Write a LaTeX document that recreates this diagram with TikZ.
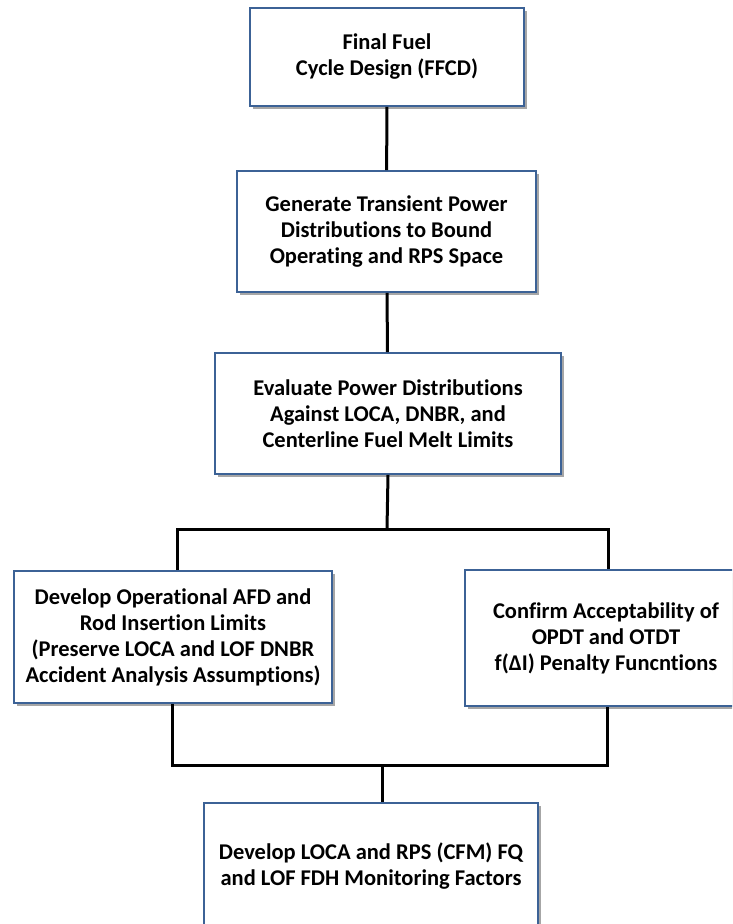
\documentclass[tikz,border=0pt]{standalone}
\usepackage{fontspec}
\setmainfont{Carlito}[Ligatures=NoCommon]
\usetikzlibrary{shadows}
\definecolor{boxblue}{RGB}{60,98,150}

\begin{document}
\begin{tikzpicture}[x=1pt, y=-1pt, line width=3pt,
  box/.style={draw=boxblue, line width=1.6pt, fill=white, align=center, inner sep=0pt,
    font=\fontsize{22.5}{26}\selectfont\bfseries,
    drop shadow={shadow xshift=2.5pt, shadow yshift=-3pt, opacity=0.35, fill=black}}]
  \useasboundingbox (0,0) rectangle (732,924);
  \clip (0,0) rectangle (732,924);
  \node[box, minimum width=274pt, minimum height=98pt] (ffcd) at (387,57) {Final Fuel\\Cycle Design (FFCD)};
  \node[box, minimum width=299pt, minimum height=121pt] (gen) at (386.5,231.5) {Generate Transient Power\\Distributions to Bound\\Operating and RPS Space};
  \node[box, minimum width=346pt, minimum height=121pt] (eval) at (388,413.5) {Evaluate Power Distributions\\Against LOCA, DNBR, and\\Centerline Fuel Melt Limits};
  \node[box, minimum width=318pt, minimum height=132pt] (dev) at (173,637) {Develop Operational AFD and\\Rod Insertion Limits\\(Preserve LOCA and LOF DNBR\\Accident Analysis Assumptions)};
  \node[box, minimum width=282pt, minimum height=136pt] (conf) at (606,638) {Confirm Acceptability of\\OPDT and OTDT\\f(ΔI) Penalty Funcntions};
  \node[box, minimum width=334pt, minimum height=126pt] (mon) at (371,866) {Develop LOCA and RPS (CFM) FQ\\and LOF FDH Monitoring Factors};
  \coordinate (split) at (387,529);
  \coordinate (merge) at (382,765);
  % connectors
  \draw (ffcd) -- (gen);
  \draw (gen) -- (eval);
  \draw (eval.south) -- (split);
  \draw ([xshift=4pt]dev.north) |- (split) -| ([xshift=2pt]conf.north);
  \draw ([xshift=-1pt]dev.south) |- (merge) -| ([xshift=1pt]conf.south);
  \draw (merge) -- (merge |- mon.north);
\end{tikzpicture}
\end{document}
